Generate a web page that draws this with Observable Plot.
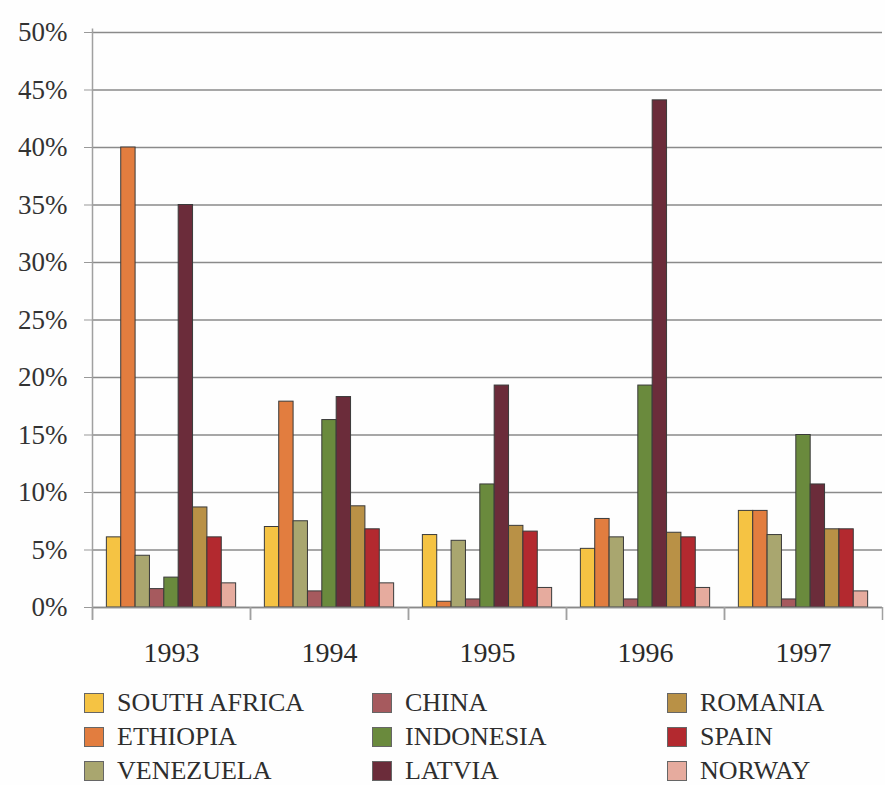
<!DOCTYPE html>
<html>
<head>
<meta charset="utf-8">
<script src="https://cdn.jsdelivr.net/npm/d3@7"></script>
<script src="https://cdn.jsdelivr.net/npm/@observablehq/plot@0.6"></script>
<style>
  html, body { margin: 0; padding: 0; background: #fefefe; }
  #chart svg { display: block; font-family: "Liberation Serif", "DejaVu Serif", serif; }
  #legend {
    font-family: "Liberation Serif", "DejaVu Serif", serif;
    font-size: 26px; line-height: 26px; color: #2e2e2e;
    display: grid;
    grid-template-columns: 288px 295px 220px;
    grid-auto-rows: 34px;
    padding-left: 84px;
    margin-top: 4px;
  }
  .item { display: flex; align-items: center; white-space: nowrap; }
  .sw { width: 20px; height: 20px; border: 1px solid #666; box-sizing: border-box; margin-right: 13px; flex: none; }
</style>
</head>
<body>
<div id="chart"></div>
<div id="legend"></div>
<script>
const years = ["1993", "1994", "1995", "1996", "1997"];
const countries = ["SOUTH AFRICA", "ETHIOPIA", "VENEZUELA", "CHINA", "INDONESIA", "LATVIA", "ROMANIA", "SPAIN", "NORWAY"];
const colors = ["#f5c343", "#e27d3f", "#a9a66f", "#a65a5e", "#6a8a3d", "#6b2c3a", "#b99146", "#b3292f", "#e6ab9e"];

// values in percent, per country, 1993..1997
const southAfrica = [6.1, 7.0, 6.3, 5.1, 8.4];
const ethiopia    = [40.0, 17.9, 0.5, 7.7, 8.4];
const venezuela   = [4.5, 7.5, 5.8, 6.1, 6.3];
const china       = [1.6, 1.4, 0.7, 0.7, 0.7];
const indonesia   = [2.6, 16.3, 10.7, 19.3, 15.0];
const latvia      = [35.0, 18.3, 19.3, 44.1, 10.7];
const romania     = [8.7, 8.8, 7.1, 6.5, 6.8];
const spain       = [6.1, 6.8, 6.6, 6.1, 6.8];
const norway      = [2.1, 2.1, 1.7, 1.7, 1.4];

const yTicks = [0, 5, 10, 15, 20, 25, 30, 35, 40, 45, 50];

const series = [southAfrica, ethiopia, venezuela, china, indonesia, latvia, romania, spain, norway];
const data = [];
years.forEach((year, yi) => {
  countries.forEach((country, ci) => {
    data.push({year, country, i: ci, value: series[ci][yi]});
  });
});

const serif = "Liberation Serif, DejaVu Serif, serif";

const chart = Plot.plot({
  width: 885,
  height: 682,
  marginLeft: 90,
  marginRight: 1,
  marginTop: 32,
  marginBottom: 75,
  style: {fontFamily: serif, background: "#fefefe", color: "#333"},
  fx: {domain: years, padding: 0, axis: null},
  x: {domain: [-1, countries.length + 1], axis: null},
  y: {domain: [0, 50], axis: null},
  color: {domain: countries, range: colors},
  marks: [
    Plot.gridY(yTicks, {stroke: "#8a8a8a", strokeOpacity: 1, strokeWidth: 1.5}),
    Plot.rectY(data, {
      fx: "year",
      x1: "i",
      x2: d => d.i + 1,
      y: "value",
      fill: "country",
      stroke: "#3a3a3a",
      strokeWidth: 1
    }),
    Plot.ruleY([0], {stroke: "#8a8a8a", strokeWidth: 1.5}),
    Plot.ruleX([years[0]], {fx: d => d, x: -1, y1: -1.1, y2: 50.3, stroke: "#a0a0a0", strokeWidth: 1.5}),
    Plot.axisX({ticks: [-1, countries.length + 1], tickSize: 13, tickFormat: () => "", label: null, stroke: "#a0a0a0", strokeWidth: 1.5}),
    Plot.axisY({ticks: yTicks, tickSize: 8, tickPadding: 17, tickFormat: d => d + "%", fontSize: 27, fontFamily: serif, label: null, stroke: "#999", fill: "#333"}),
    Plot.axisFx({anchor: "bottom", tickSize: 0, tickPadding: 35, fontSize: 28, fontFamily: serif, label: null, fill: "#2a2a2a"})
  ]
});
document.getElementById("chart").appendChild(chart);

const legend = document.getElementById("legend");
const order = [0, 3, 6, 1, 4, 7, 2, 5, 8];
order.forEach(k => {
  const item = document.createElement("div");
  item.className = "item";
  const sw = document.createElement("span");
  sw.className = "sw";
  sw.style.background = colors[k];
  const t = document.createElement("span");
  t.textContent = countries[k];
  item.appendChild(sw);
  item.appendChild(t);
  legend.appendChild(item);
});
</script>
</body>
</html>
